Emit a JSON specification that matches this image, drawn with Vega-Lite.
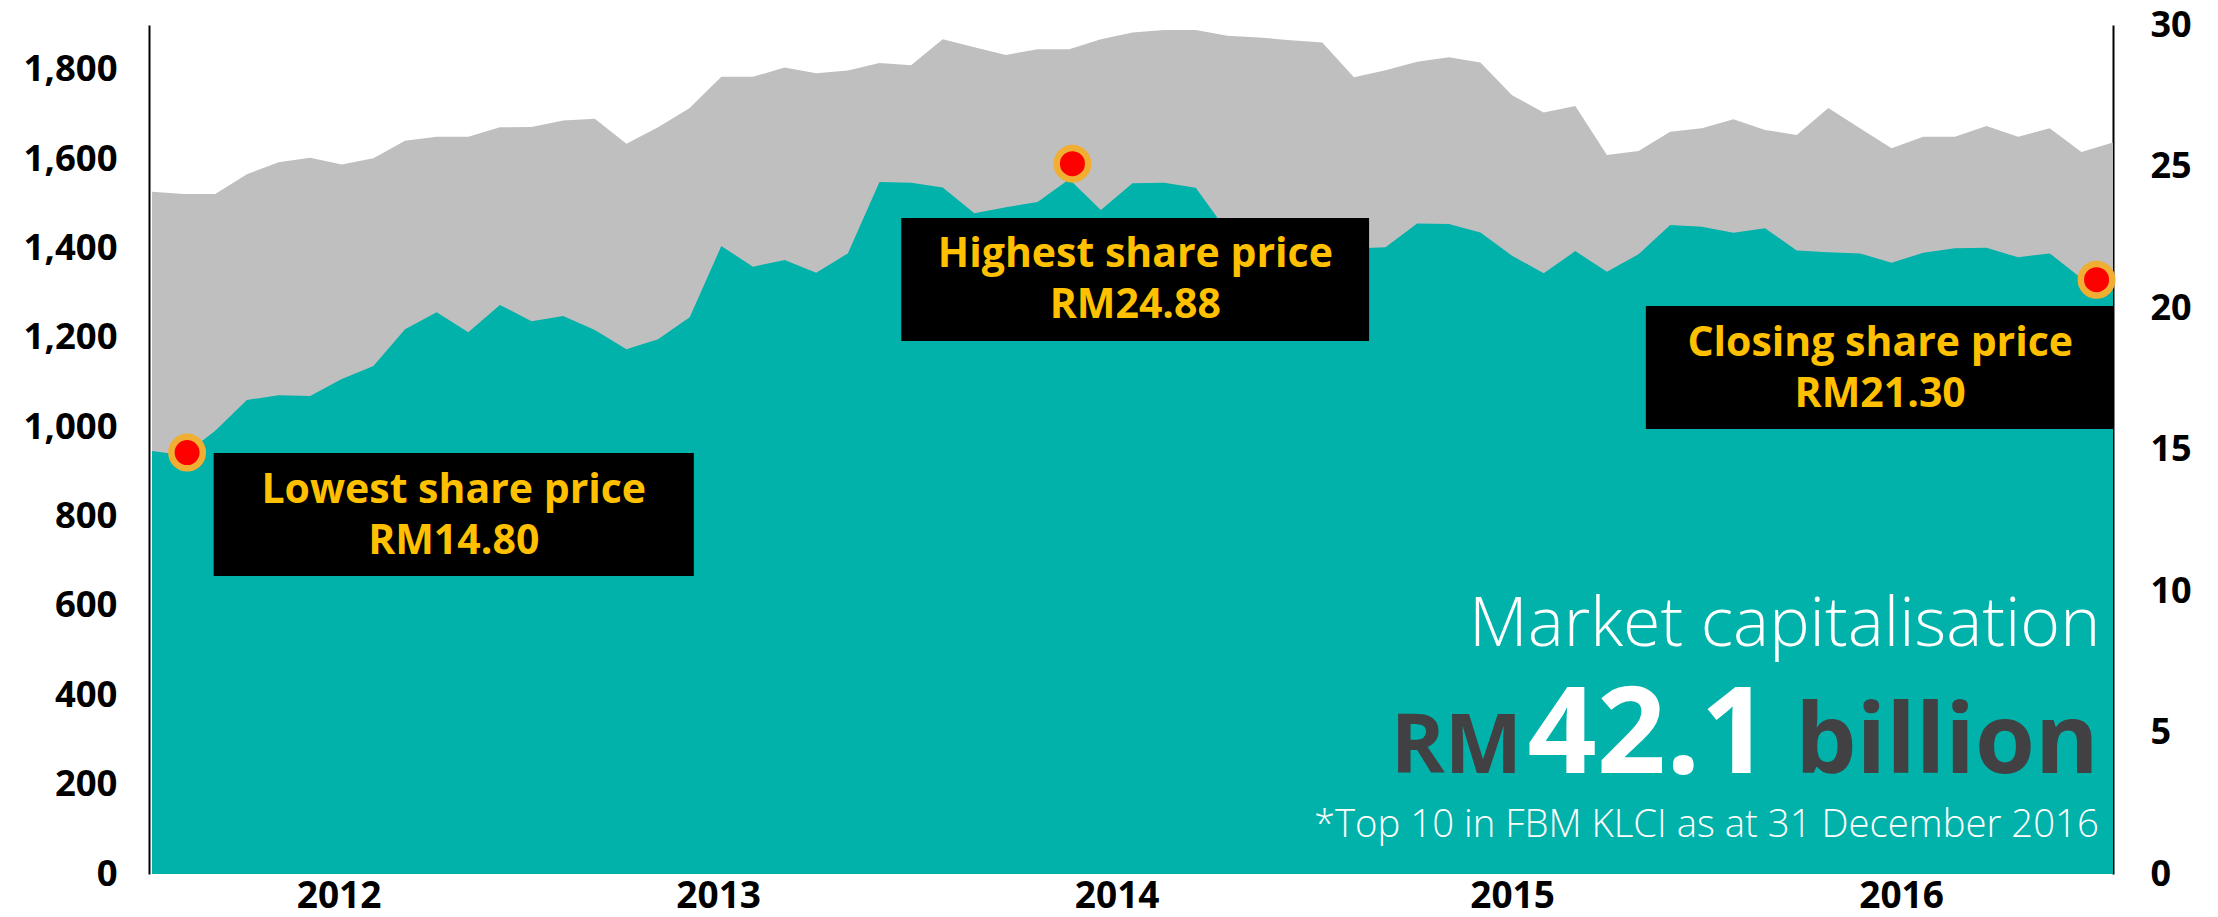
{
  "$schema": "https://vega.github.io/schema/vega-lite/v6.json",
  "width": 1961,
  "height": 849,
  "autosize": {"type": "none"},
  "padding": {"left": 152, "top": 25, "right": 105, "bottom": 43},
  "background": "white",
  "config": {"view": {"stroke": null}, "font": "Open Sans"},
  "datasets": {
    "series": [
      {"t": 0, "klci": 1527, "price": 14.95},
      {"t": 1, "klci": 1522, "price": 14.80},
      {"t": 2, "klci": 1522, "price": 15.66},
      {"t": 3, "klci": 1566, "price": 16.75},
      {"t": 4, "klci": 1593, "price": 16.92},
      {"t": 5, "klci": 1603, "price": 16.89},
      {"t": 6, "klci": 1588, "price": 17.49},
      {"t": 7, "klci": 1602, "price": 17.95},
      {"t": 8, "klci": 1641, "price": 19.25},
      {"t": 9, "klci": 1650, "price": 19.85},
      {"t": 10, "klci": 1650, "price": 19.14},
      {"t": 11, "klci": 1671, "price": 20.11},
      {"t": 12, "klci": 1672, "price": 19.53},
      {"t": 13, "klci": 1686, "price": 19.72},
      {"t": 14, "klci": 1690, "price": 19.22},
      {"t": 15, "klci": 1634, "price": 18.54},
      {"t": 16, "klci": 1671, "price": 18.90},
      {"t": 17, "klci": 1714, "price": 19.67},
      {"t": 18, "klci": 1784, "price": 22.19},
      {"t": 19, "klci": 1784, "price": 21.46},
      {"t": 20, "klci": 1805, "price": 21.70},
      {"t": 21, "klci": 1792, "price": 21.25},
      {"t": 22, "klci": 1798, "price": 21.93},
      {"t": 23, "klci": 1815, "price": 24.45},
      {"t": 24, "klci": 1810, "price": 24.43},
      {"t": 25, "klci": 1868, "price": 24.26},
      {"t": 26, "klci": 1850, "price": 23.35},
      {"t": 27, "klci": 1833, "price": 23.56},
      {"t": 28, "klci": 1846, "price": 23.75},
      {"t": 29, "klci": 1846, "price": 24.55},
      {"t": 30, "klci": 1868, "price": 23.46},
      {"t": 31, "klci": 1883, "price": 24.41},
      {"t": 32, "klci": 1889, "price": 24.43},
      {"t": 33, "klci": 1889, "price": 24.25},
      {"t": 34, "klci": 1876, "price": 22.70},
      {"t": 35, "klci": 1872, "price": 22.50},
      {"t": 36, "klci": 1866, "price": 22.30},
      {"t": 37, "klci": 1861, "price": 22.10},
      {"t": 38, "klci": 1783, "price": 22.10},
      {"t": 39, "klci": 1799, "price": 22.15},
      {"t": 40, "klci": 1818, "price": 22.99},
      {"t": 41, "klci": 1828, "price": 22.97},
      {"t": 42, "klci": 1816, "price": 22.67},
      {"t": 43, "klci": 1743, "price": 21.85},
      {"t": 44, "klci": 1704, "price": 21.23},
      {"t": 45, "klci": 1719, "price": 22.01},
      {"t": 46, "klci": 1609, "price": 21.28},
      {"t": 47, "klci": 1618, "price": 21.90},
      {"t": 48, "klci": 1661, "price": 22.93},
      {"t": 49, "klci": 1669, "price": 22.87},
      {"t": 50, "klci": 1689, "price": 22.66},
      {"t": 51, "klci": 1665, "price": 22.82},
      {"t": 52, "klci": 1654, "price": 22.03},
      {"t": 53, "klci": 1714, "price": 21.97},
      {"t": 54, "klci": 1669, "price": 21.93},
      {"t": 55, "klci": 1624, "price": 21.60},
      {"t": 56, "klci": 1650, "price": 21.95},
      {"t": 57, "klci": 1650, "price": 22.11},
      {"t": 58, "klci": 1674, "price": 22.13},
      {"t": 59, "klci": 1650, "price": 21.79},
      {"t": 60, "klci": 1669, "price": 21.93},
      {"t": 61, "klci": 1616, "price": 21.05},
      {"t": 62, "klci": 1637, "price": 20.90}
    ]
  },
  "layer": [
    {
      "data": {"name": "series"},
      "mark": {"type": "area", "color": "#BFBFBF"},
      "encoding": {
        "x": {
          "field": "t", "type": "quantitative", "title": null,
          "scale": {"domain": [0, 62], "nice": false, "zero": false},
          "axis": {
            "values": [5.9, 17.9, 30.5, 43.0, 55.3],
            "labelExpr": "datum.value < 10 ? '2012' : datum.value < 20 ? '2013' : datum.value < 35 ? '2014' : datum.value < 50 ? '2015' : '2016'",
            "title": null, "domain": false, "ticks": false, "tickSize": 0, "grid": false,
            "labelFont": "Open Sans", "labelFontWeight": "bold", "labelFontSize": 37,
            "labelColor": "#000000", "labelPadding": 22, "labelBaseline": "middle",
            "labelFlush": false, "labelOverlap": false
          }
        },
        "y": {
          "field": "klci", "type": "quantitative", "title": null,
          "scale": {"domain": [0, 1900], "nice": false},
          "axis": {
            "orient": "left", "values": [0, 200, 400, 600, 800, 1000, 1200, 1400, 1600, 1800],
            "format": ",d", "title": null, "grid": false, "ticks": false, "tickSize": 0,
            "domainColor": "#000000", "domainWidth": 2, "offset": 3, "labelPadding": 32,
            "labelFont": "Open Sans", "labelFontSize": 36.5, "labelFontWeight": "bold",
            "labelColor": "#000000", "labelFlush": false, "labelOverlap": false
          }
        }
      }
    },
    {
      "layer": [
        {
          "data": {"name": "series"},
          "mark": {"type": "area", "color": "#00B2AA"},
          "encoding": {
            "x": {"field": "t", "type": "quantitative", "title": null},
            "y": {
              "field": "price", "type": "quantitative", "title": null,
              "scale": {"domain": [0, 30], "nice": false},
              "axis": {
                "orient": "right", "values": [0, 5, 10, 15, 20, 25, 30],
                "title": null, "grid": false, "ticks": false, "tickSize": 0,
                "domainColor": "#000000", "domainWidth": 2, "labelPadding": 37,
                "labelFont": "Open Sans", "labelFontSize": 36, "labelFontWeight": "bold",
                "labelColor": "#000000", "labelFlush": false, "labelOverlap": false
              }
            }
          }
        },
        {
          "data": {"values": [
            {"x1": 1.95, "x2": 17.13, "y1": 14.88, "y2": 10.53},
            {"x1": 23.69, "x2": 38.48, "y1": 23.18, "y2": 18.83},
            {"x1": 47.23, "x2": 62.0, "y1": 20.07, "y2": 15.72}
          ]},
          "mark": {"type": "rect", "color": "#000000"},
          "encoding": {
            "x": {"field": "x1", "type": "quantitative", "title": null},
            "x2": {"field": "x2"},
            "y": {"field": "y1", "type": "quantitative", "title": null, "scale": {"domain": [0, 30], "nice": false}},
            "y2": {"field": "y2"}
          }
        },
        {
          "data": {"values": [
            {"tx": 9.54, "ty": 13.10, "label": "Lowest share price"},
            {"tx": 9.54, "ty": 11.30, "label": "RM14.80"},
            {"tx": 31.09, "ty": 21.46, "label": "Highest share price"},
            {"tx": 31.09, "ty": 19.64, "label": "RM24.88"},
            {"tx": 54.64, "ty": 18.32, "label": "Closing share price"},
            {"tx": 54.64, "ty": 16.50, "label": "RM21.30"}
          ]},
          "mark": {"type": "text", "align": "center", "baseline": "alphabetic", "font": "Open Sans", "fontWeight": "bold", "fontSize": 41, "color": "#FFC000"},
          "encoding": {
            "x": {"field": "tx", "type": "quantitative", "title": null},
            "y": {"field": "ty", "type": "quantitative", "title": null, "scale": {"domain": [0, 30], "nice": false}},
            "text": {"field": "label"}
          }
        },
        {
          "data": {"values": [
            {"tx": 1.11, "ty": 14.89},
            {"tx": 29.1, "ty": 25.1},
            {"tx": 61.48, "ty": 21.0}
          ]},
          "mark": {"type": "point", "shape": "circle", "filled": true, "size": 992, "fill": "#FF0000", "stroke": "#F0AE33", "strokeWidth": 6.5, "opacity": 1},
          "encoding": {
            "x": {"field": "tx", "type": "quantitative", "title": null},
            "y": {"field": "ty", "type": "quantitative", "title": null, "scale": {"domain": [0, 30], "nice": false}}
          }
        },
        {
          "data": {"values": [{"tx": 61.6, "ty": 8.06, "label": "Market capitalisation"}]},
          "mark": {"type": "text", "align": "right", "baseline": "alphabetic", "font": "Open Sans", "fontWeight": 300, "fontSize": 68, "color": "#FFFFFF"},
          "encoding": {
            "x": {"field": "tx", "type": "quantitative", "title": null},
            "y": {"field": "ty", "type": "quantitative", "title": null, "scale": {"domain": [0, 30], "nice": false}},
            "text": {"field": "label"}
          }
        },
        {
          "data": {"values": [{"tx": 43.32, "ty": 3.56, "label": "RM"}]},
          "mark": {"type": "text", "align": "right", "baseline": "alphabetic", "font": "Open Sans", "fontWeight": "bold", "fontSize": 82, "color": "#414042"},
          "encoding": {
            "x": {"field": "tx", "type": "quantitative", "title": null},
            "y": {"field": "ty", "type": "quantitative", "title": null, "scale": {"domain": [0, 30], "nice": false}},
            "text": {"field": "label"}
          }
        },
        {
          "data": {"values": [{"tx": 43.49, "ty": 3.56, "label": "42.1"}]},
          "mark": {"type": "text", "align": "left", "baseline": "alphabetic", "font": "Open Sans", "fontWeight": "bold", "fontSize": 121, "color": "#FFFFFF"},
          "encoding": {
            "x": {"field": "tx", "type": "quantitative", "title": null},
            "y": {"field": "ty", "type": "quantitative", "title": null, "scale": {"domain": [0, 30], "nice": false}},
            "text": {"field": "label"}
          }
        },
        {
          "data": {"values": [{"tx": 61.55, "ty": 3.56, "label": "billion"}]},
          "mark": {"type": "text", "align": "right", "baseline": "alphabetic", "font": "Open Sans", "fontWeight": "bold", "fontSize": 97, "color": "#414042"},
          "encoding": {
            "x": {"field": "tx", "type": "quantitative", "title": null},
            "y": {"field": "ty", "type": "quantitative", "title": null, "scale": {"domain": [0, 30], "nice": false}},
            "text": {"field": "label"}
          }
        },
        {
          "data": {"values": [{"tx": 61.55, "ty": 1.32, "label": "*Top 10 in FBM KLCI as at 31 December 2016"}]},
          "mark": {"type": "text", "align": "right", "baseline": "alphabetic", "font": "Open Sans", "fontWeight": 300, "fontSize": 38.3, "color": "#FFFFFF"},
          "encoding": {
            "x": {"field": "tx", "type": "quantitative", "title": null},
            "y": {"field": "ty", "type": "quantitative", "title": null, "scale": {"domain": [0, 30], "nice": false}},
            "text": {"field": "label"}
          }
        }
      ]
    }
  ],
  "resolve": {"scale": {"y": "independent"}}
}
